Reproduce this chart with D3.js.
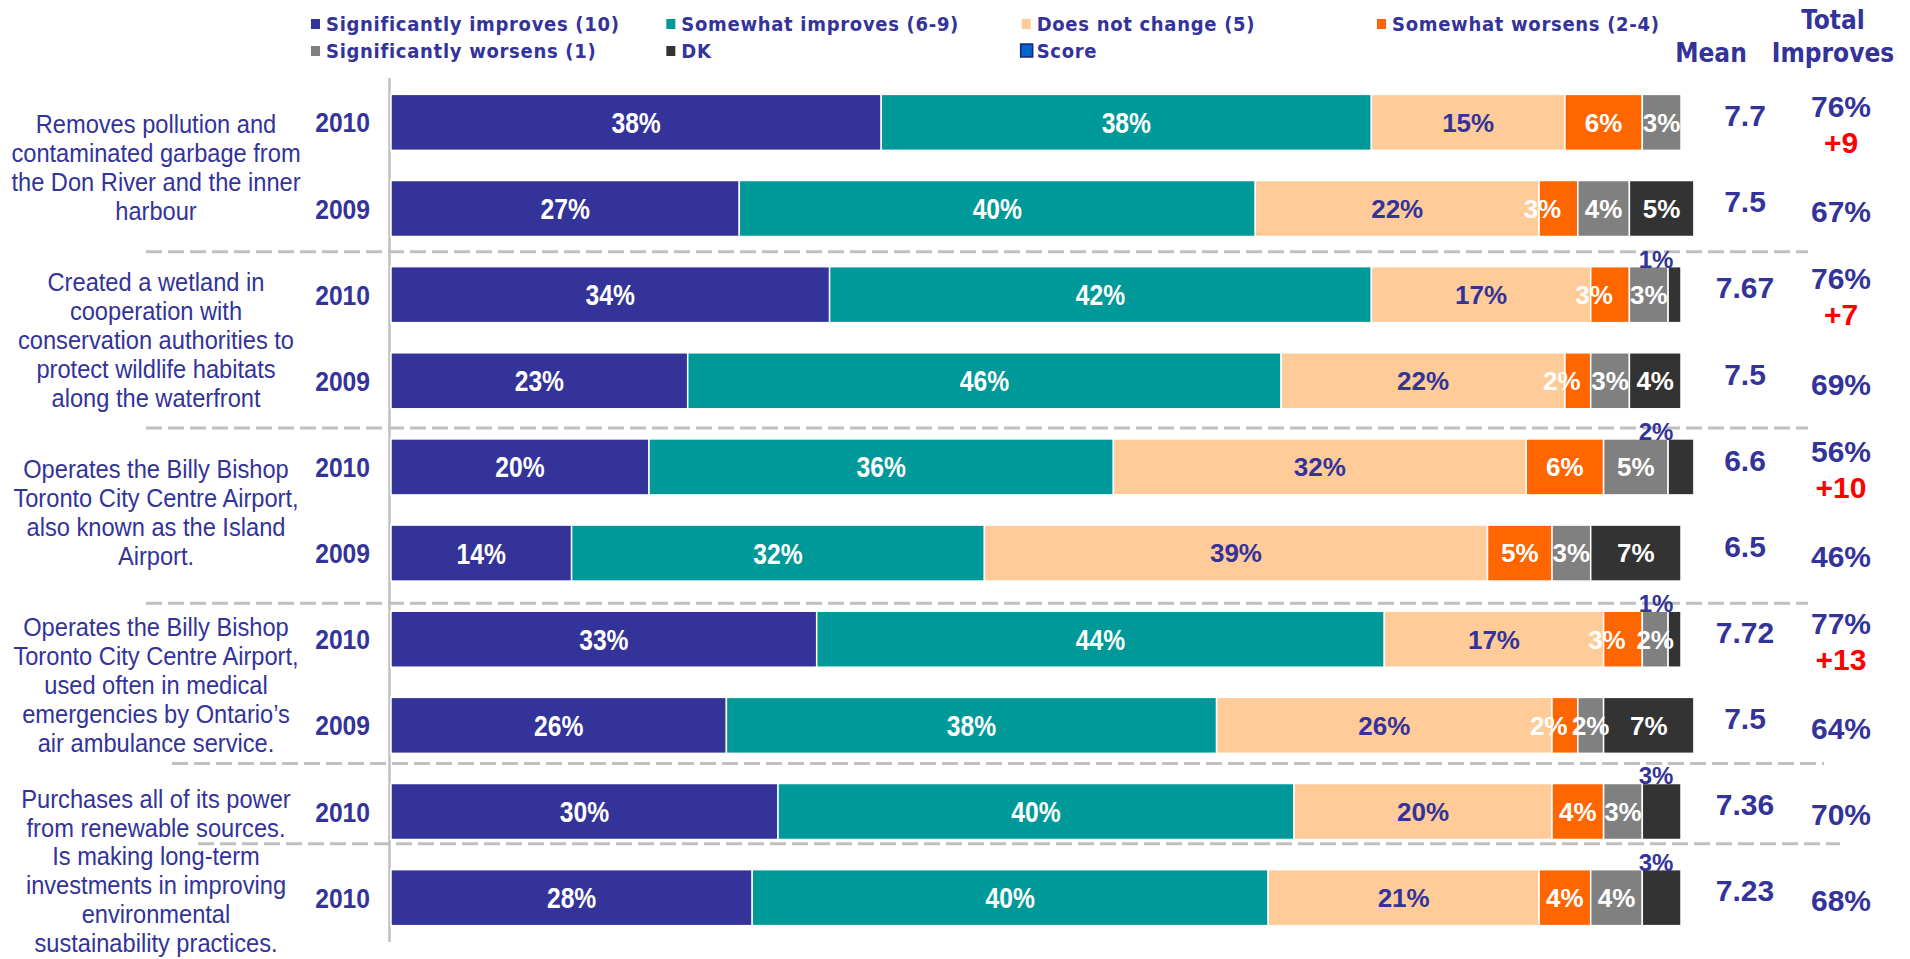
<!DOCTYPE html>
<html>
<head>
<meta charset="utf-8">
<script src="https://cdn.jsdelivr.net/npm/d3@7"></script>
<style>
  body { margin: 0; background: #fff; }
  svg { display: block; }
</style>
</head>
<body>
<script>
// ---- data ----
const categories = [
    ['Removes pollution and', 'contaminated garbage from', 'the Don River and the inner', 'harbour'],
    ['Created a wetland in', 'cooperation with', 'conservation authorities to', 'protect wildlife habitats', 'along the waterfront'],
    ['Operates the Billy Bishop', 'Toronto City Centre Airport,', 'also known as the Island', 'Airport.'],
    ['Operates the Billy Bishop', 'Toronto City Centre Airport,', 'used often in medical', 'emergencies by Ontario\u2019s', 'air ambulance service.'],
    ['Purchases all of its power', 'from renewable sources.'],
    ['Is making long-term', 'investments in improving', 'environmental', 'sustainability practices.'],
];
const rowGroup = [0, 0, 1, 1, 2, 2, 3, 3, 4, 5];
const years = ['2010', '2009', '2010', '2009', '2010', '2009', '2010', '2009', '2010', '2010'];

const seriesNames = ['Significantly improves (10)', 'Somewhat improves (6-9)', 'Does not change (5)',
    'Somewhat worsens (2-4)', 'Significantly worsens (1)', 'DK'];
const sigImproves = [38, 27, 34, 23, 20, 14, 33, 26, 30, 28];
const someImproves = [38, 40, 42, 46, 36, 32, 44, 38, 40, 40];
const noChange = [15, 22, 17, 22, 32, 39, 17, 26, 20, 21];
const someWorsens = [6, 3, 3, 2, 6, 5, 3, 2, 4, 4];
const sigWorsens = [3, 4, 3, 3, 5, 3, 2, 2, 3, 4];
const dontKnow = [0, 5, 1, 4, 2, 7, 1, 7, 3, 3];

const means = [7.7, 7.5, 7.67, 7.5, 6.6, 6.5, 7.72, 7.5, 7.36, 7.23];
const totalImproves = [76, 67, 76, 69, 56, 46, 77, 64, 70, 68];
const changeVs2009 = ['+9', null, '+7', null, '+10', null, '+13', null, null, null];

// ---- look ----
const colors = ['#333399', '#009999', '#FFCC99', '#FF6600', '#808080', '#333333'];
const labelColors = ['#fff', '#fff', '#333399', '#fff', '#fff', '#fff'];
const navy = '#333399';
const condensed = "'DejaVu Sans Condensed', 'Arial Narrow', sans-serif";
const arial = "'Liberation Sans', Arial, sans-serif";
// how far each dashed separator sits above the next statement's first bar
const sepLift = [15, 11, 8, 20, 26];

const W = 1910, H = 959;

// Arial Narrow look: Liberation Sans squeezed horizontally around its anchor x
function squeeze(sel, k) {
    sel.attr('transform', function () {
        const cx = +this.getAttribute('x');
        return `translate(${cx},0) scale(${k},1) translate(${-cx},0)`;
    });
}

const rows = years.map((y, i) => ({
    i, year: y,
    s0: sigImproves[i], s1: someImproves[i], s2: noChange[i],
    s3: someWorsens[i], s4: sigWorsens[i], s5: dontKnow[i],
}));
const keys = ['s0', 's1', 's2', 's3', 's4', 's5'];

const x = d3.scaleLinear().domain([0, 100]).range([391, 1681]);
const y = d3.scaleBand().domain(d3.range(rows.length)).range([78, 942])
    .paddingInner(0.35).paddingOuter(0.19);
const mid = i => y(i) + y.bandwidth() / 2;

const svg = d3.select('body').append('svg')
    .attr('width', W)
    .attr('height', H);

// separators between statements
const sepY = [];
for (let i = 1; i < rows.length; i++) {
    if (rowGroup[i] !== rowGroup[i - 1]) {
        sepY.push(y(i) - sepLift[sepY.length]);
    }
}
svg.selectAll('.sep')
    .data(sepY)
    .enter().append('line')
    .attr('class', 'sep')
    .attr('x1', (d, j) => (j < 3 ? 146 : 146 + (j - 2) * 26))
    .attr('x2', (d, j) => (j < 3 ? 1808 : 1808 + (j - 2) * 16))
    .attr('y1', d => d).attr('y2', d => d)
    .attr('stroke', '#C0C0C0')
    .attr('stroke-width', 3)
    .attr('stroke-dasharray', '16,6');

// vertical axis line
svg.append('line')
    .attr('x1', x(0) - 1.5).attr('x2', x(0) - 1.5)
    .attr('y1', y.range()[0]).attr('y2', y.range()[1])
    .attr('stroke', '#C0C0C0')
    .attr('stroke-width', 2.5);

// stacked bars
const stacked = d3.stack().keys(keys)(rows);

const layer = svg.selectAll('.layer')
    .data(stacked)
    .enter().append('g')
    .attr('class', 'layer')
    .attr('fill', (d, k) => colors[k]);

layer.selectAll('rect')
    .data(d => d.filter(p => p[1] > p[0]))
    .enter().append('rect')
    .attr('x', p => x(p[0]))
    .attr('y', p => y(p.data.i))
    .attr('width', p => x(p[1]) - x(p[0]))
    .attr('height', y.bandwidth())
    .attr('stroke', '#fff')
    .attr('stroke-width', 1.5);

// segment labels
stacked.forEach((s, k) => {
    const pts = s.filter(p => p[1] > p[0]);
    const inside = k === 5 ? pts.filter(p => p.data.s5 > 3) : pts;
    const lbl = svg.append('g').selectAll('text')
        .data(inside)
        .enter().append('text')
        // small orange labels sit a little to the left, as in the original
        .attr('x', p => (x(p[0]) + x(p[1])) / 2 - (k === 3 && p[1] - p[0] <= 3 ? 16 : 0))
        .attr('y', p => mid(p.data.i))
        .attr('dy', '0.36em')
        .attr('text-anchor', 'middle')
        .style('font-family', arial)
        .style('font-weight', 'bold')
        .style('font-size', k < 2 ? '29px' : '26px')
        .attr('fill', labelColors[k])
        .text(p => `${p[1] - p[0]}%`);
    if (k < 2) squeeze(lbl, 0.85);

    if (k === 5) {
        // small DK shares are written above the bar
        svg.append('g').selectAll('text')
            .data(pts.filter(p => p.data.s5 <= 3))
            .enter().append('text')
            .attr('x', x(100) - 25)
            .attr('y', p => y(p.data.i) + 1)
            .attr('text-anchor', 'middle')
            .style('font-family', arial)
            .style('font-weight', 'bold')
            .style('font-size', '24px')
            .attr('fill', navy)
            .text(p => `${p.data.s5}%`);
    }
});

// years
const yr = svg.append('g').selectAll('text')
    .data(rows)
    .enter().append('text')
    .attr('x', 370)
    .attr('y', d => mid(d.i))
    .attr('dy', '0.36em')
    .attr('text-anchor', 'end')
    .style('font-family', arial)
    .style('font-weight', 'bold')
    .style('font-size', '28px')
    .attr('fill', navy)
    .text(d => d.year);
squeeze(yr, 0.88);

// statements
const lineH = 29;
categories.forEach((lines, g) => {
    const idx = rowGroup.map((v, i) => (v === g ? i : -1)).filter(i => i >= 0);
    const cy = (y(idx[0]) + y(idx[idx.length - 1]) + y.bandwidth()) / 2 + 2;
    const t = svg.append('text')
        .attr('x', 156)
        .attr('text-anchor', 'middle')
        .style('font-family', arial)
        .style('font-size', '26px')
        .attr('fill', navy);
    lines.forEach((ln, j) => {
        t.append('tspan')
            .attr('x', 156)
            .attr('y', cy + (j - (lines.length - 1) / 2) * lineH)
            .attr('dy', '0.36em')
            .text(ln);
    });
    squeeze(t, 0.91);
});

// mean and total improves
svg.append('g').selectAll('text')
    .data(rows)
    .enter().append('text')
    .attr('x', 1745)
    .attr('y', d => mid(d.i) - 7)
    .attr('dy', '0.36em')
    .attr('text-anchor', 'middle')
    .style('font-family', arial)
    .style('font-weight', 'bold')
    .style('font-size', '30px')
    .attr('fill', navy)
    .text(d => String(means[d.i]));

svg.append('g').selectAll('text')
    .data(rows)
    .enter().append('text')
    .attr('x', 1841)
    .attr('y', d => mid(d.i) + (changeVs2009[d.i] ? -16 : 3))
    .attr('dy', '0.36em')
    .attr('text-anchor', 'middle')
    .style('font-family', arial)
    .style('font-weight', 'bold')
    .style('font-size', '30px')
    .attr('fill', navy)
    .text(d => `${totalImproves[d.i]}%`);

svg.append('g').selectAll('text')
    .data(rows.filter(d => changeVs2009[d.i]))
    .enter().append('text')
    .attr('x', 1841)
    .attr('y', d => mid(d.i) + 20)
    .attr('dy', '0.36em')
    .attr('text-anchor', 'middle')
    .style('font-family', arial)
    .style('font-weight', 'bold')
    .style('font-size', '30px')
    .attr('fill', '#FF0000')
    .text(d => changeVs2009[d.i]);

// column headers
const headers = [
    { t: 'Total', x: 1833, y: 20 },
    { t: 'Mean', x: 1711, y: 53 },
    { t: 'Improves', x: 1833, y: 53 },
];
svg.append('g').selectAll('text')
    .data(headers)
    .enter().append('text')
    .attr('x', d => d.x)
    .attr('y', d => d.y)
    .attr('dy', '0.36em')
    .attr('text-anchor', 'middle')
    .style('font-family', condensed)
    .style('font-weight', 'bold')
    .style('font-size', '26px')
    .attr('fill', navy)
    .text(d => d.t);

// legend
const legendItems = seriesNames.map((n, k) => ({ name: n, color: colors[k], border: 'none' }))
    .concat([{ name: 'Score', color: '#0066CC', border: '#1a237e' }]);
const legendX = d3.scalePoint().domain(d3.range(4)).range([326, 1392]);
const leg = svg.selectAll('.legend')
    .data(legendItems)
    .enter().append('g')
    .attr('class', 'legend')
    .attr('transform', (d, k) => `translate(${legendX(k % 4)},${k < 4 ? 24 : 51})`);

leg.append('rect')
    .attr('x', d => (d.name === 'Score' ? -16 : -15))
    .attr('y', d => (d.name === 'Score' ? -7 : -5))
    .attr('width', d => (d.name === 'Score' ? 12 : 9))
    .attr('height', d => (d.name === 'Score' ? 13 : 10))
    .attr('fill', d => d.color)
    .attr('stroke', d => d.border)
    .attr('stroke-width', 1.5);

leg.append('text')
    .attr('dy', '0.36em')
    .style('font-family', condensed)
    .style('font-weight', 'bold')
    .style('font-size', '20px')
    .style('letter-spacing', '0.7px')
    .attr('fill', navy)
    .text(d => d.name);
</script>
</body>
</html>
